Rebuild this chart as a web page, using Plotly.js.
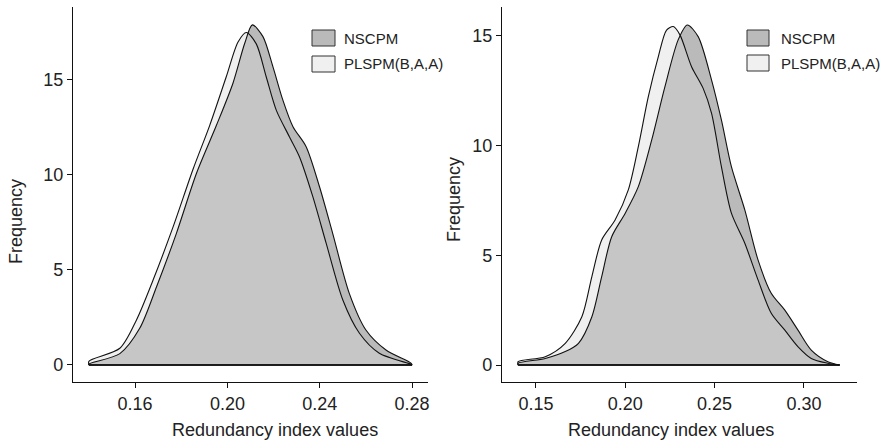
<!DOCTYPE html>
<html>
<head>
<meta charset="utf-8">
<script src="https://cdn.plot.ly/plotly-3.0.1.min.js"></script>
<style>html,body{margin:0;padding:0;background:#fff;}#chart{width:890px;height:444px;}</style>
</head>
<body>
<div id="chart"></div>
<script>
// ---- Data ----
const seriesNames = ['NSCPM', 'PLSPM(B,A,A)'];

// Left panel
const leftNscpmX = [0.14, 0.14, 0.1534, 0.162, 0.1693, 0.1779, 0.1866, 0.1952, 0.2024, 0.2075, 0.2108, 0.2154, 0.2197, 0.224, 0.2284, 0.2341, 0.2399, 0.2456, 0.2528, 0.26, 0.2687, 0.2795, 0.28];
const leftNscpmY = [0, 0.05, 0.6, 1.93, 4.12, 6.93, 10.09, 12.6, 14.83, 16.93, 17.9, 17.28, 15.7, 13.95, 12.54, 11.49, 9.38, 6.93, 3.77, 1.84, 0.79, 0.1, 0];
const leftPlspmX = [0.14, 0.14, 0.1534, 0.1606, 0.1678, 0.1765, 0.1851, 0.1923, 0.1995, 0.2046, 0.2082, 0.2125, 0.2168, 0.2212, 0.2269, 0.2312, 0.237, 0.2428, 0.25, 0.2572, 0.2658, 0.2795, 0.28];
const leftPlspmY = [0, 0.2, 0.88, 2.37, 4.47, 7.28, 10.3, 12.6, 15.17, 17.0, 17.5, 16.9, 15.17, 13.4, 12.0, 10.96, 8.86, 6.4, 3.42, 1.67, 0.62, 0.04, 0];

// Right panel
const rightNscpmX = [0.14, 0.14, 0.1552, 0.1664, 0.1738, 0.1813, 0.1868, 0.1924, 0.1999, 0.2073, 0.2148, 0.2222, 0.2296, 0.2347, 0.2408, 0.2483, 0.2538, 0.2594, 0.2669, 0.2743, 0.2817, 0.2892, 0.2966, 0.3041, 0.3134, 0.32];
const rightNscpmY = [0, 0.08, 0.3, 0.61, 0.99, 2.2, 4.03, 5.85, 6.91, 8.13, 10.26, 12.69, 14.82, 15.5, 14.97, 12.99, 11.17, 9.04, 7.07, 4.79, 3.27, 2.51, 1.6, 0.68, 0.15, 0];
const rightPlspmX = [0.14, 0.14, 0.1552, 0.1664, 0.1757, 0.1813, 0.1868, 0.1943, 0.2017, 0.2073, 0.2129, 0.2185, 0.2231, 0.2269, 0.2306, 0.2371, 0.2436, 0.2483, 0.2538, 0.2594, 0.2669, 0.2743, 0.2817, 0.2892, 0.2966, 0.3041, 0.3134, 0.32];
const rightPlspmY = [0, 0.15, 0.38, 0.99, 2.2, 4.03, 5.7, 6.61, 7.98, 9.95, 12.23, 14.06, 15.27, 15.43, 15.05, 13.6, 12.61, 11.47, 9.04, 6.92, 5.55, 3.88, 2.36, 1.6, 0.84, 0.30, 0.08, 0];

const leftTickVals = [0.16, 0.20, 0.24, 0.28];
const leftTickText = ['0.16', '0.20', '0.24', '0.28'];
const rightTickVals = [0.15, 0.20, 0.25, 0.30];
const rightTickText = ['0.15', '0.20', '0.25', '0.30'];
const yTickVals = [0, 5, 10, 15];
const xTitle = 'Redundancy index values';
const yTitle = 'Frequency';

// ---- Styles ----
const FONT = 'Liberation Sans, Arial, Helvetica, sans-serif';
const nsFill = 'rgb(186,186,186)';
const plFill = 'rgba(217,217,217,0.39)';
const plSwatch = 'rgb(240,240,240)';
const lineCol = '#111';

function fillTrace(x, y, color, xa, ya) {
  return {x: x, y: y, xaxis: xa, yaxis: ya, type: 'scatter', mode: 'lines',
    fill: 'toself', fillcolor: color, line: {width: 0, shape: 'spline', smoothing: 0.8},
    showlegend: false, hoverinfo: 'skip'};
}
function lineTrace(x, y, xa, ya) {
  return {x: x, y: y, xaxis: xa, yaxis: ya, type: 'scatter', mode: 'lines',
    line: {width: 1.1, color: lineCol, shape: 'spline', smoothing: 0.8},
    showlegend: false, hoverinfo: 'skip'};
}
function baseTrace(x, y, xa, ya) {
  // straight baseline joining the two ends of a density outline
  return {x: [x[0], x[x.length - 1]], y: [y[0], y[y.length - 1]], xaxis: xa, yaxis: ya,
    type: 'scatter', mode: 'lines', line: {width: 1.3, color: lineCol},
    showlegend: false, hoverinfo: 'skip'};
}

const data = [
  fillTrace(leftNscpmX, leftNscpmY, nsFill, 'x', 'y'),
  fillTrace(leftPlspmX, leftPlspmY, plFill, 'x', 'y'),
  lineTrace(leftNscpmX, leftNscpmY, 'x', 'y'),
  lineTrace(leftPlspmX, leftPlspmY, 'x', 'y'),
  baseTrace(leftNscpmX, leftNscpmY, 'x', 'y'),
  baseTrace(leftPlspmX, leftPlspmY, 'x', 'y'),
  fillTrace(rightNscpmX, rightNscpmY, nsFill, 'x2', 'y2'),
  fillTrace(rightPlspmX, rightPlspmY, plFill, 'x2', 'y2'),
  lineTrace(rightNscpmX, rightNscpmY, 'x2', 'y2'),
  lineTrace(rightPlspmX, rightPlspmY, 'x2', 'y2'),
  baseTrace(rightNscpmX, rightNscpmY, 'x2', 'y2'),
  baseTrace(rightPlspmX, rightPlspmY, 'x2', 'y2')
];

const W = 890, H = 444;
const px = v => v / W;
const py = v => 1 - v / H;

function axisCommon() {
  return {showgrid: false, zeroline: false, showline: true, linecolor: lineCol, linewidth: 1.1,
    ticks: 'outside', ticklen: 5, tickwidth: 1, tickcolor: lineCol,
    tickfont: {family: FONT, size: 18, color: '#222'}, fixedrange: true};
}

const layout = {
  width: W, height: H,
  margin: {l: 0, r: 0, t: 0, b: 0},
  paper_bgcolor: '#fff', plot_bgcolor: 'rgba(0,0,0,0)',
  showlegend: false,
  xaxis: Object.assign(axisCommon(), {domain: [px(73), px(428)], range: [0.1331, 0.2869], tickvals: leftTickVals, ticktext: leftTickText, anchor: 'y'}),
  yaxis: Object.assign(axisCommon(), {domain: [py(382), py(7)], range: [-0.895, 18.84], tickvals: yTickVals, anchor: 'x'}),
  xaxis2: Object.assign(axisCommon(), {domain: [px(502), px(857)], range: [0.131, 0.3297], tickvals: rightTickVals, ticktext: rightTickText, anchor: 'y2'}),
  yaxis2: Object.assign(axisCommon(), {domain: [py(382), py(7)], range: [-0.775, 16.32], tickvals: yTickVals, anchor: 'x2'}),
  shapes: [
    {type: 'rect', xref: 'paper', yref: 'paper', x0: px(312), x1: px(335), y0: py(46), y1: py(30), fillcolor: nsFill, line: {color: '#333', width: 1}},
    {type: 'rect', xref: 'paper', yref: 'paper', x0: px(312), x1: px(335), y0: py(72), y1: py(56), fillcolor: plSwatch, line: {color: '#333', width: 1}},
    {type: 'rect', xref: 'paper', yref: 'paper', x0: px(747), x1: px(769), y0: py(46), y1: py(30), fillcolor: nsFill, line: {color: '#333', width: 1}},
    {type: 'rect', xref: 'paper', yref: 'paper', x0: px(747), x1: px(769), y0: py(71), y1: py(55), fillcolor: plSwatch, line: {color: '#333', width: 1}}
  ],
  annotations: [
    {xref: 'paper', yref: 'paper', x: px(342), y: py(39), xanchor: 'left', yanchor: 'middle', text: seriesNames[0], showarrow: false, font: {family: FONT, size: 15, color: '#222'}},
    {xref: 'paper', yref: 'paper', x: px(342), y: py(64), xanchor: 'left', yanchor: 'middle', text: seriesNames[1], showarrow: false, font: {family: FONT, size: 15, color: '#222'}},
    {xref: 'paper', yref: 'paper', x: px(779), y: py(39), xanchor: 'left', yanchor: 'middle', text: seriesNames[0], showarrow: false, font: {family: FONT, size: 15, color: '#222'}},
    {xref: 'paper', yref: 'paper', x: px(779), y: py(64), xanchor: 'left', yanchor: 'middle', text: seriesNames[1], showarrow: false, font: {family: FONT, size: 15, color: '#222'}},
    {xref: 'paper', yref: 'paper', x: px(275), y: py(430), xanchor: 'center', yanchor: 'middle', text: xTitle, showarrow: false, font: {family: FONT, size: 18, color: '#222'}},
    {xref: 'paper', yref: 'paper', x: px(671), y: py(430), xanchor: 'center', yanchor: 'middle', text: xTitle, showarrow: false, font: {family: FONT, size: 18, color: '#222'}},
    {xref: 'paper', yref: 'paper', x: px(16), y: py(222), xanchor: 'center', yanchor: 'middle', text: yTitle, textangle: -90, showarrow: false, font: {family: FONT, size: 18, color: '#222'}},
    {xref: 'paper', yref: 'paper', x: px(454), y: py(200), xanchor: 'center', yanchor: 'middle', text: yTitle, textangle: -90, showarrow: false, font: {family: FONT, size: 18, color: '#222'}}
  ]
};

Plotly.newPlot('chart', data, layout, {displayModeBar: false, staticPlot: true});
</script>
</body>
</html>
